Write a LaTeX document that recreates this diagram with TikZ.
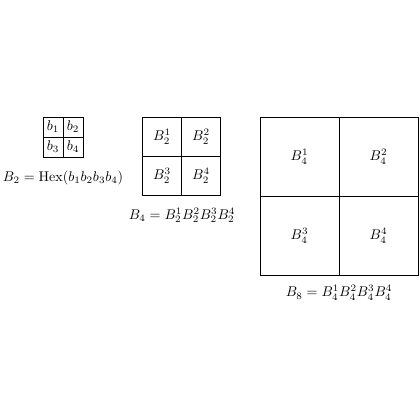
\documentclass[tikz,border=0pt]{standalone}
\begin{document}
\begin{tikzpicture}[x=0.025cm,y=-0.025cm,
  grid/.style={draw,line width=0.4pt},
  lab/.style={inner sep=1pt,anchor=center}]
\useasboundingbox (0,0) rectangle (420,420);
% small grid
\draw[grid] (43,117) rectangle (83,157) (63,117) -- (63,157) (43,137) -- (83,137);
\node[lab] (s1) at (53,127) {$b_1$};
\node[lab] (s2) at (73,127) {$b_2$};
\node[lab] (s3) at (53,147) {$b_3$};
\node[lab] (s4) at (73,147) {$b_4$};
\node[lab] (l2) at (63,177.5) {$B_2=\mathrm{Hex}(b_1b_2b_3b_4)$};
% medium grid
\draw[grid] (142.5,117.5) rectangle (220.5,195.5) (181.5,117.5) -- (181.5,195.5) (142.5,156.5) -- (220.5,156.5);
\node[lab] (m1) at (162,137) {$B_2^1$};
\node[lab] (m2) at (201,137) {$B_2^2$};
\node[lab] (m3) at (162,176) {$B_2^3$};
\node[lab] (m4) at (201,176) {$B_2^4$};
\node[lab] (l4) at (182,215.5) {$B_4=B_2^1B_2^2B_2^3B_2^4$};
% large grid
\draw[grid] (260,117.5) rectangle (418,275) (339,117.5) -- (339,275) (260,196.5) -- (418,196.5);
\node[lab] (g1) at (299.5,157) {$B_4^1$};
\node[lab] (g2) at (378.5,157) {$B_4^2$};
\node[lab] (g3) at (299.5,236) {$B_4^3$};
\node[lab] (g4) at (378.5,236) {$B_4^4$};
\node[lab] (l8) at (339,293) {$B_8=B_4^1B_4^2B_4^3B_4^4$};
\end{tikzpicture}
\end{document}
